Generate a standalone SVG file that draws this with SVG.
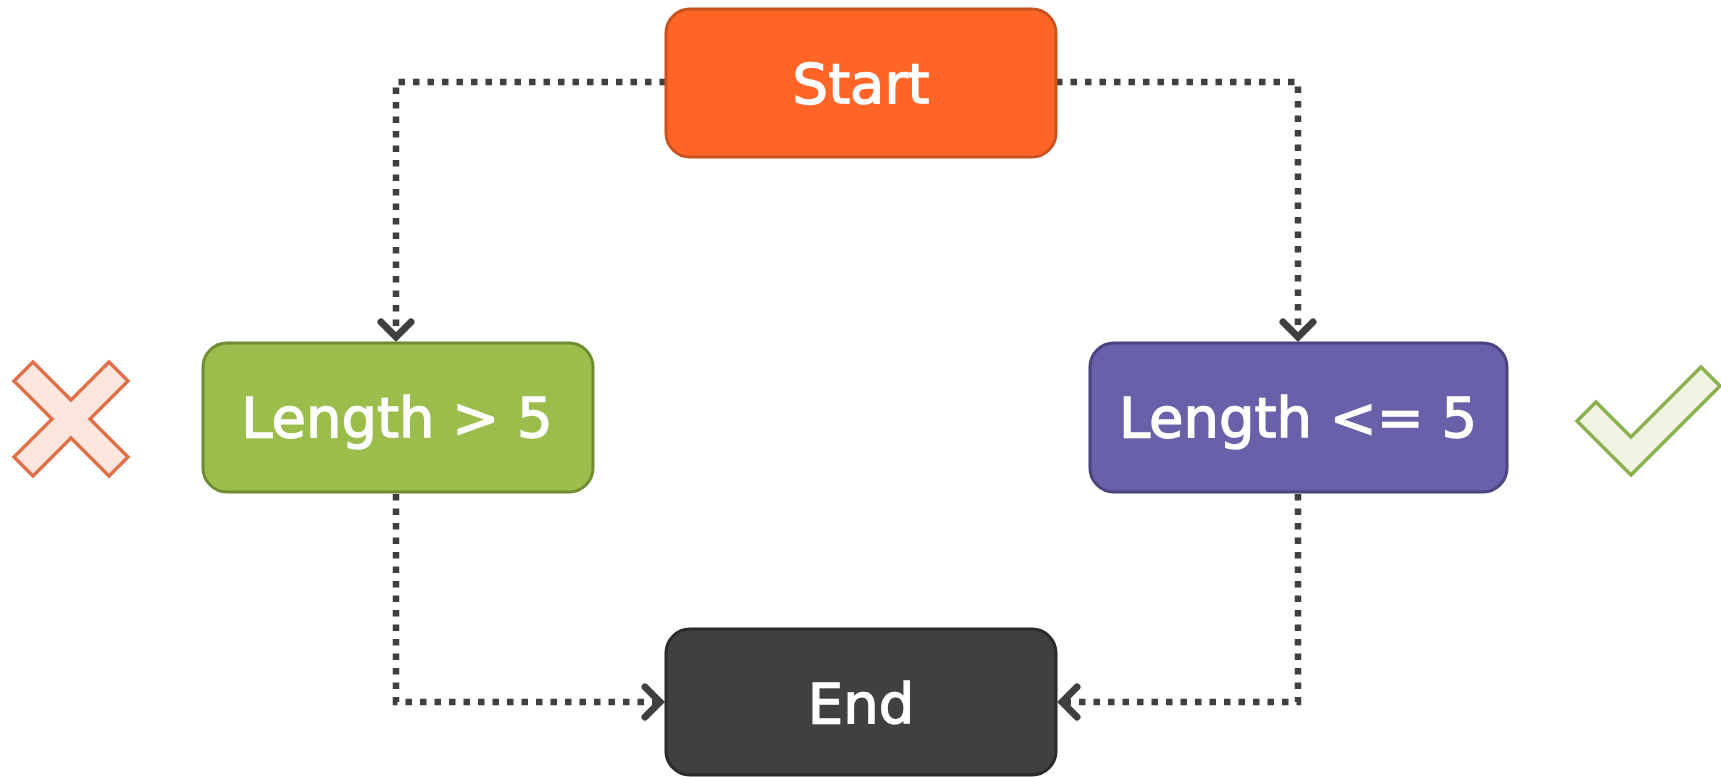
<svg xmlns="http://www.w3.org/2000/svg" width="1721" height="777" viewBox="0 0 1721 777">
<defs>
<style>
.lbl{font-family:"DejaVu Sans","Liberation Sans",sans-serif;font-size:56px;fill:#ffffff;text-anchor:middle;stroke:#ffffff;stroke-width:1.4}
.conn{fill:none;stroke:#3f3f3f;stroke-width:6.5;stroke-dasharray:6.5 8}
.box{stroke-width:3}
</style>
<marker id="arr" markerUnits="userSpaceOnUse" markerWidth="44" markerHeight="44" viewBox="-22 -22 44 44" refX="0" refY="0" orient="auto">
<path d="M -15 -15 L 0 0 L -15 15" fill="none" stroke="#3f3f3f" stroke-width="7" stroke-linecap="round"/>
</marker>
</defs>
<rect width="1721" height="777" fill="#ffffff"/>
<g id="connectors">
<path class="conn" d="M 666 82 H 396 V 337" marker-end="url(#arr)"/>
<path class="conn" d="M 1056 82 H 1298 V 337" marker-end="url(#arr)"/>
<path class="conn" d="M 396 494 V 702 H 660" marker-end="url(#arr)"/>
<path class="conn" d="M 1298 494 V 702 H 1062" marker-end="url(#arr)"/>
</g>
<g id="start">
<rect class="box" x="666" y="9" width="390" height="148" rx="24" fill="#FF6526" stroke="#C9521F"/>
<text class="lbl" x="861" y="103">Start</text>
</g>
<g id="lengthGt5">
<rect class="box" x="203" y="343" width="390" height="149" rx="24" fill="#9ABD4B" stroke="#6E8D33"/>
<text class="lbl" x="397" y="437">Length &gt; 5</text>
</g>
<g id="lengthLe5">
<rect class="box" x="1090" y="343" width="417" height="149" rx="24" fill="#6860A9" stroke="#4A447F"/>
<text class="lbl" x="1298" y="437">Length &lt;= 5</text>
</g>
<g id="end">
<rect class="box" x="666" y="629" width="390" height="146" rx="24" fill="#404040" stroke="#2A2A2A"/>
<text class="lbl" x="861" y="723">End</text>
</g>
<g id="cross">
<polygon transform="translate(71 419)" points="0,-19 38,-57 57,-38 19,0 57,38 38,57 0,19 -38,57 -57,38 -19,0 -57,-38 -38,-57" fill="#FBE6DE" stroke="#E0704A" stroke-width="3.5" stroke-linejoin="miter"/>
</g>
<g id="check">
<polygon points="1596,402 1631,437 1701,367 1720,386 1631,475 1577,421" fill="#EEF3E2" stroke="#8BAF4E" stroke-width="3.5" stroke-linejoin="miter"/>
</g>
</svg>
